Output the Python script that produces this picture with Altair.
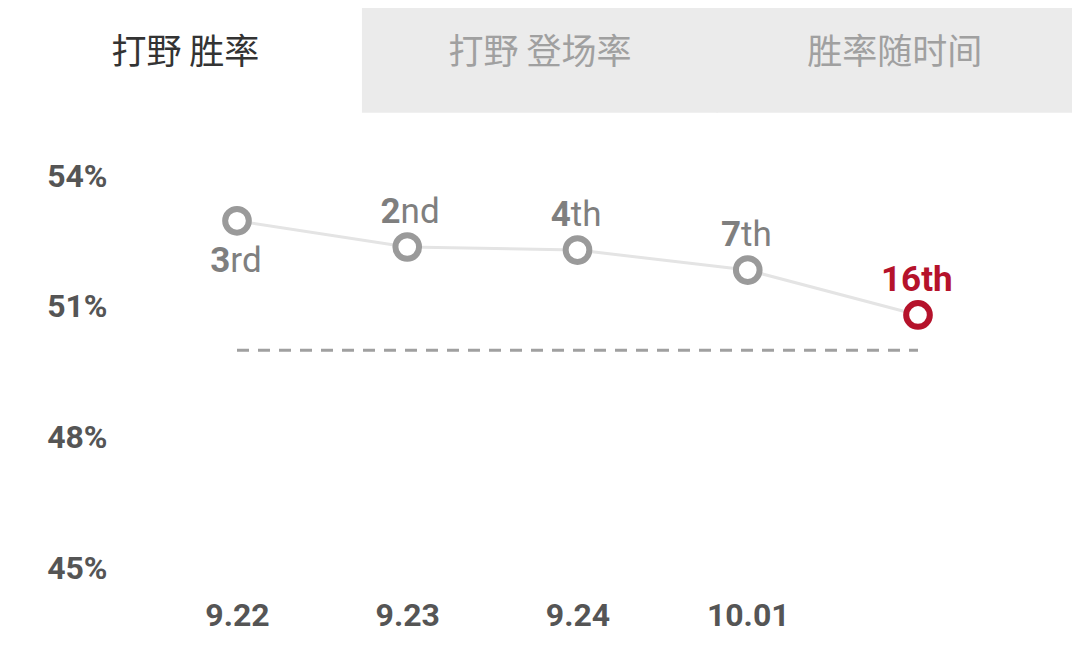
import json
import altair as alt
import pandas as pd

# ---- data ----
tabs = ["打野 胜率", "打野 登场率", "胜率随时间"]
tab_active = [True, False, False]

dates = ["9.22", "9.23", "9.24", "10.01", ""]
win_rate = [52.97, 52.37, 52.30, 51.84, 50.81]
rank_num = ["3", "2", "4", "7", "16"]
rank_suffix = ["rd", "nd", "th", "th", "th"]
label_below = [True, False, False, False, False]
highlight = [False, False, False, False, True]
baseline_rate = [50]
y_ticks = [45, 48, 51, 54]

# ---- layout / style ----
W, H = 1064, 640
GREY = "#9a9a9a"
LABEL_GREY = "#7f7f7f"
RED = "#b5122b"
FS = 35
STEP = (910 - 229) / 4

df = pd.DataFrame({
    "i": list(range(len(win_rate))),
    "date": dates,
    "v": win_rate,
    "num": rank_num,
    "suf": rank_suffix,
    "below": label_below,
    "hl": highlight,
})
tabs_df = pd.DataFrame({"tab": tabs, "active": tab_active})
rule_df = pd.DataFrame({"b": baseline_rate, "x0": [0], "x1": [len(win_rate) - 1]})

xscale = alt.Scale(domain=[0, len(win_rate) - 1], range=[229, 910], nice=False, zero=False)
yscale = alt.Scale(domain=[45, 54], range=[560, 168], nice=False, zero=False)

label_expr = json.dumps(dates) + "[datum.value]"

x_axis = alt.Axis(
    values=list(range(len(dates) - 1)), labelExpr=label_expr, orient="bottom",
    offset=-33, ticks=False, tickSize=0, domain=False, grid=False, labelPadding=0,
    labelFont="Roboto", labelFontWeight="bold", labelFontSize=32, labelColor="#555555",
    labelBaseline="middle", labelFlush=False, labelOverlap=False, title=None,
)
y_axis = alt.Axis(
    values=y_ticks, labelExpr="datum.value + '%'", orient="left",
    offset=-99, ticks=False, tickSize=0, domain=False, grid=False, labelPadding=0,
    labelFont="Roboto", labelFontWeight="bold", labelFontSize=32, labelColor="#555555",
    labelAlign="right", labelBaseline="middle", labelOverlap=False, title=None,
)

# ---- tabs ----
tab_x = alt.X("tab:N", sort=None, axis=None, scale=alt.Scale(paddingInner=0, paddingOuter=0))
tab_fill = alt.condition("datum.active", alt.value("white"), alt.value("#ebebeb"))
tab_rect = alt.Chart(tabs_df).mark_rect(strokeWidth=1.5).encode(
    x=tab_x,
    y=alt.value(0), y2=alt.value(104),
    fill=tab_fill, stroke=tab_fill,
)
tab_text = alt.Chart(tabs_df).mark_text(
    font="Noto Sans CJK SC", fontSize=35, baseline="middle", align="center"
).encode(
    x=tab_x,
    y=alt.value(45),
    text="tab:N",
    color=alt.condition("datum.active", alt.value("#333333"), alt.value("#a0a0a0")),
)
tab_layer = alt.layer(tab_rect, tab_text)

# ---- main chart ----
rule = alt.Chart(rule_df).mark_rule(strokeDash=[12, 9], color="#a0a0a0", strokeWidth=3).encode(
    x=alt.X("x0:Q", scale=xscale, axis=x_axis),
    x2="x1:Q",
    y=alt.Y("b:Q", scale=yscale, axis=y_axis),
)
line = alt.Chart(df).mark_line(color="#e4e4e4", strokeWidth=3).encode(
    x=alt.X("i:Q", scale=xscale, axis=x_axis),
    y=alt.Y("v:Q", scale=yscale, axis=y_axis),
)
points = alt.Chart(df).mark_point(
    shape="circle", fill="white", fillOpacity=1, strokeWidth=6, size=560, opacity=1
).encode(
    x=alt.X("i:Q", scale=xscale, axis=x_axis),
    y=alt.Y("v:Q", scale=yscale, axis=y_axis),
    stroke=alt.condition("datum.hl", alt.value(RED), alt.value(GREY)),
)

lab_base = alt.Chart(df).transform_calculate(
    ly="datum.v + (datum.below ? -0.92 : 0.8)",
    lx=f"datum.i + ((length(datum.num) * 0.56 - length(datum.suf) * 0.47) * {FS} / 2) / {STEP}",
)
lab_enc = dict(
    x=alt.X("lx:Q", scale=xscale, axis=x_axis),
    y=alt.Y("ly:Q", scale=yscale, axis=y_axis),
    color=alt.condition("datum.hl", alt.value(RED), alt.value(LABEL_GREY)),
)
num_text = lab_base.mark_text(
    font="Roboto", fontSize=FS, fontWeight="bold", align="right", baseline="middle"
).encode(text="num:N", **lab_enc)
suf_text = lab_base.transform_filter("!datum.hl").mark_text(
    font="Roboto", fontSize=FS, fontWeight="normal", align="left", baseline="middle"
).encode(text="suf:N", **lab_enc)
suf_text_hl = lab_base.transform_filter("datum.hl").mark_text(
    font="Roboto", fontSize=FS, fontWeight="bold", align="left", baseline="middle"
).encode(text="suf:N", **lab_enc)

main_layer = alt.layer(rule, line, points, num_text, suf_text, suf_text_hl)

chart = alt.layer(tab_layer, main_layer).resolve_scale(x="independent").properties(
    width=W, height=H, padding=0, autosize=alt.AutoSizeParams(type="none"),
    background="white",
).configure_view(stroke=None)

chart.save("out.html", embed_options={"renderer": "svg", "actions": False})
